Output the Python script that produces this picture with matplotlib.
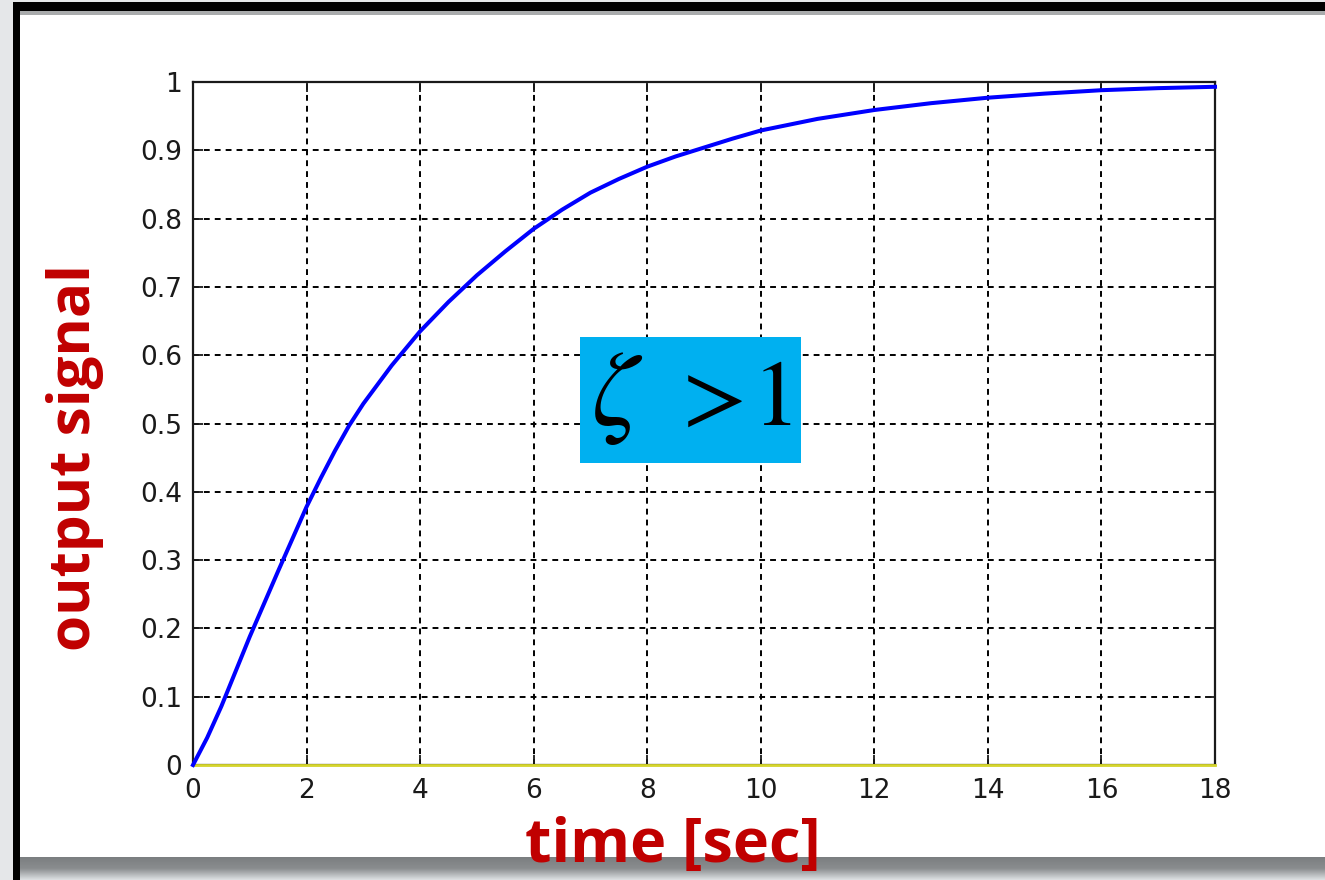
import matplotlib
matplotlib.use("Agg")
import matplotlib.pyplot as plt
import numpy as np
from matplotlib.patches import Rectangle
from matplotlib.colors import LinearSegmentedColormap

# Step response of an overdamped second-order system
time_s = [0, 0.25, 0.5, 0.75, 1.0, 1.25, 1.5, 1.75, 2.0, 2.25, 2.5, 2.75, 3.0,
          3.5, 4.0, 4.5, 5.0, 5.5, 6.0, 6.5, 7.0, 7.5, 8.0, 8.5, 9.0, 9.5, 10,
          11, 12, 13, 14, 15, 16, 17, 18]
output = [0, 0.04, 0.086, 0.137, 0.188, 0.236, 0.284, 0.331, 0.378, 0.42, 0.46,
          0.497, 0.529, 0.585, 0.635, 0.678, 0.717, 0.752, 0.785, 0.813, 0.838,
          0.858, 0.876, 0.891, 0.904, 0.917, 0.929, 0.946, 0.959, 0.969, 0.977,
          0.983, 0.988, 0.991, 0.993]

# zero reference line
zero_t = [0, 18]
zero_y = [0, 0]

x_ticks = [0, 2, 4, 6, 8, 10, 12, 14, 16, 18]
x_labels = ["0", "2", "4", "6", "8", "10", "12", "14", "16", "18"]
y_ticks = [0, 0.1, 0.2, 0.3, 0.4, 0.5, 0.6, 0.7, 0.8, 0.9, 1.0]
y_labels = ["0", "0.1", "0.2", "0.3", "0.4", "0.5", "0.6", "0.7", "0.8", "0.9", "1"]

plt.rcParams["mathtext.fontset"] = "stix"

W, H = 1325, 880
fig = plt.figure(figsize=(W / 100, H / 100), dpi=100)
fig.patch.set_facecolor("#e5e7e9")

# slide frame drawn in pixel coordinates
bg = fig.add_axes([0, 0, 1, 1], zorder=-5)
bg.set_xlim(0, W)
bg.set_ylim(H, 0)
bg.axis("off")
bg.add_patch(Rectangle((0, 0), W, H, color="#e5e7e9", lw=0))
bg.add_patch(Rectangle((20, 13), W - 20, 844, color="white", lw=0))
bg.add_patch(Rectangle((20, 11), W - 20, 4, color="#a9abac", lw=0))
bg.add_patch(Rectangle((13, 2), W - 13, 9, color="black", lw=0))
bg.add_patch(Rectangle((13, 2), 7, H, color="black", lw=0))
shadow = LinearSegmentedColormap.from_list("shadow", ["#7b7e80", "#8a8d8f", "#dde1e3"])
grad = np.linspace(0, 1, 64).reshape(-1, 1)
bg.imshow(grad, cmap=shadow, extent=(20, W, 880, 857), aspect="auto", zorder=3)

# main plot
ax = fig.add_axes([193 / W, 1 - 765 / H, 1022 / W, 683 / H], zorder=1)
ax.set_facecolor("white")
ax.plot(time_s, output, color="#0000ff", lw=2.9, zorder=4, clip_on=False,
        solid_joinstyle="round")
ax.plot(zero_t, zero_y, color="#d6d62c", lw=2.0, zorder=3, clip_on=False)
ax.set_xlim(0, 18)
ax.set_ylim(0, 1)
ax.set_xticks(x_ticks)
ax.set_xticklabels(x_labels)
ax.set_yticks(y_ticks)
ax.set_yticklabels(y_labels)
ax.grid(True, color="black", linestyle=(0, (3.0, 2.6)), linewidth=1.4)
ax.tick_params(direction="in", length=7, width=1.3, top=True, right=True,
               labelsize=19, labelcolor="#1a1a1a", color="#1a1a1a")
ax.tick_params(axis="y", pad=8)
ax.tick_params(axis="x", pad=9)
for s in ax.spines.values():
    s.set_linewidth(1.6)
    s.set_color("#1a1a1a")
for lab in ax.get_xticklabels() + ax.get_yticklabels():
    lab.set_family("DejaVu Sans")

ax.set_xlabel("time [sec]", fontsize=44, fontweight="bold", color="#c00000",
              family=["Open Sans", "DejaVu Sans"])
ax.xaxis.set_label_coords((673 - 193) / 1022, (765 - 862) / 683)
ax.xaxis.label.set_va("baseline")
ax.set_ylabel("output signal", fontsize=42, fontweight="bold", color="#c00000",
              family=["Open Sans", "DejaVu Sans"])
ax.yaxis.set_label_coords((90 - 193) / 1022, (765 - 458) / 683)
ax.yaxis.label.set_va("baseline")

# damping-ratio tag
ov = fig.add_axes([0, 0, 1, 1], zorder=5)
ov.set_xlim(0, W)
ov.set_ylim(H, 0)
ov.axis("off")
ov.patch.set_alpha(0)
ov.add_patch(Rectangle((580, 337), 221, 126, color="#00b0f0", lw=0))
ov.text(617, 425, r"$\zeta$", ha="center", va="baseline", fontsize=76, color="black")
ov.text(706, 425, r"$>$", ha="center", va="baseline", fontsize=68, color="black")
ov.text(772, 425, r"$1$", ha="center", va="baseline", fontsize=68, color="black")

fig.savefig("out.png", dpi=100, facecolor=fig.get_facecolor())
